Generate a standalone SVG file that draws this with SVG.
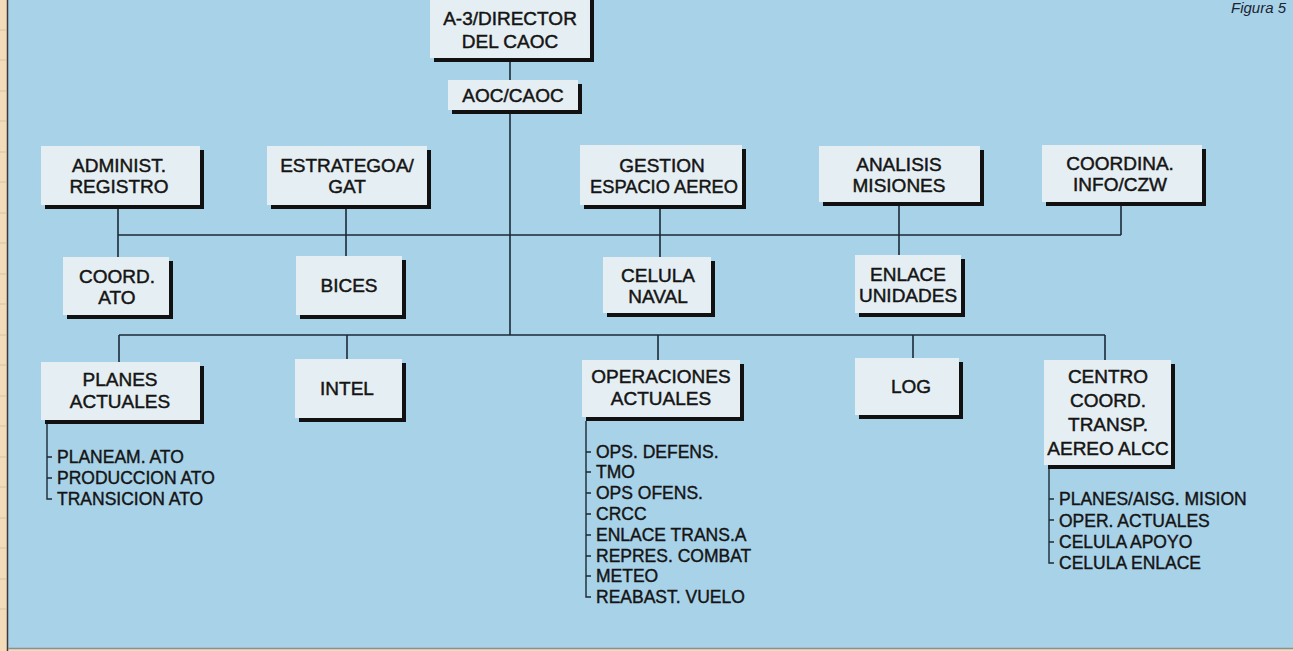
<svg xmlns="http://www.w3.org/2000/svg" width="1293" height="651" viewBox="0 0 1293 651">
<style>
.bg{fill:#a8d2e8}
.sh{fill:#111}
.bx{fill:#e5eef2}
.t{font-family:"Liberation Sans",Arial,sans-serif;font-size:19px;fill:#141414;stroke:#141414;stroke-width:0.45;text-anchor:middle}
.s{font-family:"Liberation Sans",Arial,sans-serif;font-size:17.5px;fill:#141414;stroke:#141414;stroke-width:0.4}
.ln{stroke:#1b2a36;stroke-width:1.6;fill:none}
.tk{stroke:#1b2a36;stroke-width:1.4;fill:none}
</style>
<rect x="0" y="0" width="1293" height="651" fill="#f2dcb9"/>
<rect class="bg" x="8" y="0" width="1285" height="648"/>
<line x1="7.5" y1="0" x2="7.5" y2="651" stroke="#3a3a3a" stroke-width="1.5"/>
<line x1="8" y1="648.5" x2="1293" y2="648.5" stroke="#8a8f94" stroke-width="1.5"/>
<g stroke="#d9c4a4" stroke-width="1">
<line x1="0" y1="30" x2="6" y2="30"/><line x1="0" y1="60" x2="6" y2="60"/><line x1="0" y1="91" x2="6" y2="91"/><line x1="0" y1="121" x2="6" y2="121"/><line x1="0" y1="152" x2="6" y2="152"/><line x1="0" y1="182" x2="6" y2="182"/><line x1="0" y1="213" x2="6" y2="213"/><line x1="0" y1="243" x2="6" y2="243"/><line x1="0" y1="274" x2="6" y2="274"/><line x1="0" y1="304" x2="6" y2="304"/><line x1="0" y1="335" x2="6" y2="335"/><line x1="0" y1="365" x2="6" y2="365"/><line x1="0" y1="396" x2="6" y2="396"/><line x1="0" y1="426" x2="6" y2="426"/><line x1="0" y1="457" x2="6" y2="457"/><line x1="0" y1="487" x2="6" y2="487"/><line x1="0" y1="518" x2="6" y2="518"/><line x1="0" y1="548" x2="6" y2="548"/><line x1="0" y1="579" x2="6" y2="579"/><line x1="0" y1="609" x2="6" y2="609"/>
</g>
<text x="1286" y="13" text-anchor="end" font-family="Liberation Sans,Arial,sans-serif" font-size="15" font-style="italic" fill="#1a2530">Figura 5</text>

<g id="connectors">
<line class="ln" x1="510" y1="61" x2="510" y2="80"/>
<line class="ln" x1="510" y1="113" x2="510" y2="335"/>
<line class="ln" x1="118" y1="235" x2="1121" y2="235"/>
<line class="ln" x1="118" y1="209" x2="118" y2="257"/>
<line class="ln" x1="346" y1="209" x2="346" y2="256"/>
<line class="ln" x1="660" y1="209" x2="660" y2="257"/>
<line class="ln" x1="899" y1="206" x2="899" y2="255"/>
<line class="ln" x1="1121" y1="206" x2="1121" y2="235"/>
<line class="ln" x1="119" y1="335" x2="1105" y2="335"/>
<line class="ln" x1="119" y1="335" x2="119" y2="362"/>
<line class="ln" x1="347" y1="335" x2="347" y2="359"/>
<line class="ln" x1="658" y1="335" x2="658" y2="360"/>
<line class="ln" x1="913" y1="335" x2="913" y2="358"/>
<line class="ln" x1="1105" y1="335" x2="1105" y2="360"/>
</g>

<g id="n-director"><rect class="sh" x="434" y="0" width="160" height="62"/><rect class="bx" x="430" y="-4" width="160" height="62"/><text class="t" x="510" y="25">A-3/DIRECTOR</text><text class="t" x="510" y="48">DEL CAOC</text></g>
<g id="n-aoc"><rect class="sh" x="452" y="84" width="130" height="30"/><rect class="bx" x="448" y="80" width="130" height="30"/><text class="t" x="513" y="102">AOC/CAOC</text></g>

<g id="n-administ"><rect class="sh" x="45" y="150" width="159" height="59"/><rect class="bx" x="41" y="146" width="159" height="59"/><text class="t" x="119" y="172">ADMINIST.</text><text class="t" x="119" y="193">REGISTRO</text></g>
<g id="n-estrategoa"><rect class="sh" x="271" y="150" width="160" height="59"/><rect class="bx" x="267" y="146" width="160" height="59"/><text class="t" x="347" y="172">ESTRATEGOA/</text><text class="t" x="347" y="193">GAT</text></g>
<g id="n-gestion"><rect class="sh" x="584" y="149" width="162" height="60"/><rect class="bx" x="580" y="145" width="162" height="60"/><text class="t" x="662" y="172">GESTION</text><text class="t" x="664" y="193" textLength="148" lengthAdjust="spacingAndGlyphs">ESPACIO AEREO</text></g>
<g id="n-analisis"><rect class="sh" x="823" y="150" width="161" height="56"/><rect class="bx" x="819" y="146" width="161" height="56"/><text class="t" x="899" y="171">ANALISIS</text><text class="t" x="899" y="192">MISIONES</text></g>
<g id="n-coordina"><rect class="sh" x="1046" y="149" width="160" height="57"/><rect class="bx" x="1042" y="145" width="160" height="57"/><text class="t" x="1120" y="170">COORDINA.</text><text class="t" x="1120" y="191">INFO/CZW</text></g>

<g id="n-coordato"><rect class="sh" x="67" y="261" width="106" height="58"/><rect class="bx" x="63" y="257" width="106" height="58"/><text class="t" x="117" y="283">COORD.</text><text class="t" x="117" y="304">ATO</text></g>
<g id="n-bices"><rect class="sh" x="300" y="260" width="106" height="59"/><rect class="bx" x="296" y="256" width="106" height="59"/><text class="t" x="349" y="292">BICES</text></g>
<g id="n-celula"><rect class="sh" x="607" y="261" width="108" height="56"/><rect class="bx" x="603" y="257" width="108" height="56"/><text class="t" x="658" y="282">CELULA</text><text class="t" x="658" y="303">NAVAL</text></g>
<g id="n-enlace"><rect class="sh" x="859" y="259" width="106" height="58"/><rect class="bx" x="855" y="255" width="106" height="58"/><text class="t" x="908" y="281">ENLACE</text><text class="t" x="908" y="302">UNIDADES</text></g>

<g id="n-planes"><rect class="sh" x="45" y="366" width="159" height="58"/><rect class="bx" x="41" y="362" width="159" height="58"/><text class="t" x="120" y="386">PLANES</text><text class="t" x="120" y="408">ACTUALES</text>
<path class="tk" d="M47 424 V499 H52 M47 457 H52 M47 478 H52"/>
<text class="s" x="57" y="463">PLANEAM. ATO</text><text class="s" x="57" y="484">PRODUCCION ATO</text><text class="s" x="57" y="505">TRANSICION ATO</text></g>
<g id="n-intel"><rect class="sh" x="299" y="363" width="107" height="59"/><rect class="bx" x="295" y="359" width="107" height="59"/><text class="t" x="347" y="395">INTEL</text></g>
<g id="n-operaciones"><rect class="sh" x="586" y="364" width="158" height="57"/><rect class="bx" x="582" y="360" width="158" height="57"/><text class="t" x="661" y="383">OPERACIONES</text><text class="t" x="661" y="405">ACTUALES</text>
<path class="tk" d="M586 421 V597 H591 M586 452 H591 M586 472 H591 M586 493 H591 M586 514 H591 M586 535 H591 M586 556 H591 M586 576 H591"/>
<text class="s" x="596" y="458">OPS. DEFENS.</text><text class="s" x="596" y="478">TMO</text><text class="s" x="596" y="499">OPS OFENS.</text><text class="s" x="596" y="520">CRCC</text><text class="s" x="596" y="541">ENLACE TRANS.A</text><text class="s" x="596" y="562">REPRES. COMBAT</text><text class="s" x="596" y="582">METEO</text><text class="s" x="596" y="603">REABAST. VUELO</text></g>
<g id="n-log"><rect class="sh" x="859" y="362" width="104" height="57"/><rect class="bx" x="855" y="358" width="104" height="57"/><text class="t" x="911" y="393">LOG</text></g>
<g id="n-centro"><rect class="sh" x="1048" y="364" width="127" height="105"/><rect class="bx" x="1044" y="360" width="127" height="105"/><text class="t" x="1108" y="383">CENTRO</text><text class="t" x="1108" y="407">COORD.</text><text class="t" x="1108" y="431">TRANSP.</text><text class="t" x="1108" y="455">AEREO ALCC</text>
<path class="tk" d="M1049 469 V563 H1054 M1049 499 H1054 M1049 520 H1054 M1049 542 H1054"/>
<text class="s" x="1059" y="505">PLANES/AISG. MISION</text><text class="s" x="1059" y="527">OPER. ACTUALES</text><text class="s" x="1059" y="548">CELULA APOYO</text><text class="s" x="1059" y="569">CELULA ENLACE</text></g>
</svg>
